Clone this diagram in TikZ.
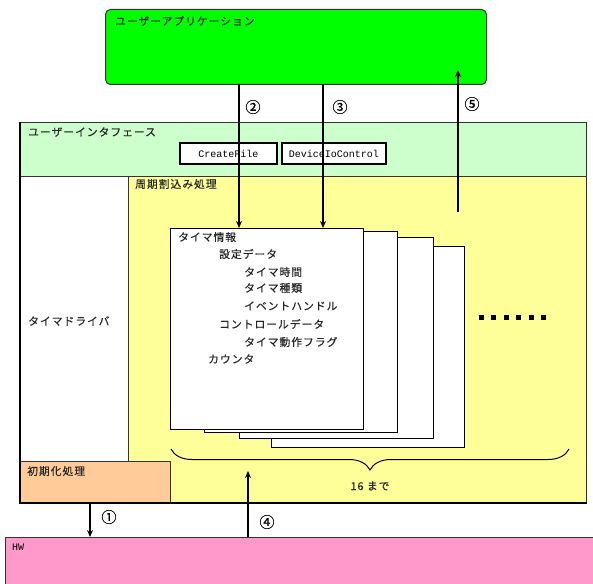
\documentclass[tikz,border=0pt]{standalone}
\usepackage{fontspec}
\usetikzlibrary{arrows.meta,decorations.pathreplacing}
\newfontfamily\jpfont{Noto Sans CJK JP}[LetterSpace=9,FakeBold=0.3]
\newfontfamily\numfont{Noto Sans CJK JP}[FakeBold=0.4]
\newfontfamily\codefont{Liberation Mono}
\definecolor{appgreen}{HTML}{00FF00}
\definecolor{uigreen}{HTML}{CCFFCC}
\definecolor{cycyellow}{HTML}{FFFF99}
\definecolor{initorange}{HTML}{FFCC99}
\definecolor{hwpink}{HTML}{FF99CC}
\tikzset{
  area/.style={draw=black!80, line width=1pt, inner sep=0pt, anchor=north west},
  card/.style={draw=black, line width=1.2pt, fill=white, inner sep=0pt, anchor=north west,
    minimum width=193pt, minimum height=201pt},
  jtext/.style={anchor=west, inner sep=0pt, text=black!85, font=\jpfont\fontsize{10.8}{12}\selectfont},
  code/.style={area, draw=black, line width=1.2pt, fill=white, anchor=center,
    font=\codefont\fontsize{10}{11}\selectfont, minimum height=21pt},
  step num/.style={inner sep=0pt, font=\numfont\fontsize{15}{15}\selectfont},
  flow/.style={line width=1.6pt, -{Stealth[length=7pt,width=6pt]}},
}
\begin{document}
\begin{tikzpicture}[x=1pt,y=-1pt]
  \useasboundingbox (0,0) rectangle (593,583);
  % layers
  \node [area, fill=appgreen, rounded corners=5pt, minimum width=381pt, minimum height=75pt] (app) at (105,9) {};
  \node [area, fill=uigreen, minimum width=566pt, minimum height=54pt] (ui) at (20,122) {};
  \node [area, fill=cycyellow, minimum width=458pt, minimum height=327pt] (cyc) at (128,176) {};
  \node [area, fill=white, minimum width=108pt, minimum height=285pt] (drv) at (20,176) {};
  \node [area, fill=initorange, minimum width=150pt, minimum height=42pt] (init) at (20,461) {};
  \node [area, fill=hwpink, minimum width=600pt, minimum height=60pt] (hw) at (5,537) {};
  \draw [black, line width=1.5pt] (20,122) -- (20,503) -- (587,503);
  % API boxes
  \node [code, minimum width=97pt] (create) at (228.5,153.5) {CreateFile};
  \node [code, minimum width=104pt] (ioctl) at (334,153.5) {DeviceIoControl};
  % timer info cards
  \node [card] (card4) at (271,246) {};
  \node [card, minimum width=194pt] (card3) at (239,237) {};
  \node [card] (card2) at (204,231) {};
  \node [card] (card1) at (170,228) {};
  % texts
  \node [jtext] (apptxt) at (115,21) {ユーザーアプリケーション};
  \node [jtext] (uitxt) at (28,132) {ユーザーインタフェース};
  \node [jtext] (cyctxt) at (135,184) {周期割込み処理};
  \node [jtext] (drvtxt) at (28,321) {タイマドライバ};
  \node [jtext] (inittxt) at (27,471) {初期化処理};
  \node [anchor=west, inner sep=0pt, font=\codefont\fontsize{10}{10}\selectfont] (hwtxt) at (12,547) {HW};
  \node [jtext] (info) at (178,237) {タイマ情報};
  \node [jtext] (conf) at (219,254) {設定データ};
  \node [jtext] (ttime) at (244,272) {タイマ時間};
  \node [jtext] (ttype) at (244,288) {タイマ種類};
  \node [jtext] (thandler) at (244,306) {イベントハンドル};
  \node [jtext] (ctrl) at (219,324) {コントロールデータ};
  \node [jtext] (tflag) at (244,342) {タイマ動作フラグ};
  \node [jtext] (counter) at (208,359) {カウンタ};
  % more cards
  \foreach \i in {0,...,5}
    \fill [black] (479+12.4*\i,314.5) rectangle ++(5,5);
  \draw [line width=1pt, decorate, decoration={brace, amplitude=21pt}] (569,449) -- (171,449);
  \node [jtext, anchor=center] (upto) at (370,486) {16 まで};
  % flows
  \coordinate (s2) at (239,84);
  \coordinate (s3) at (323,84);
  \coordinate (s5) at (458,212);
  \coordinate (t5) at (458,70);
  \coordinate (s4) at (248,537);
  \coordinate (t4) at (248,471);
  \coordinate (s1) at (90,503);
  \draw [flow] (s2) -- (s2 |- card1.north);
  \draw [flow] (s3) -- (s3 |- card1.north);
  \draw [flow] (s5) -- (t5);
  \draw [flow] (s4) -- (t4);
  \draw [flow] (s1) -- (s1 |- hw.north);
  \node [step num] (n1) at (109,517) {①};
  \node [step num] (n2) at (253,107) {②};
  \node [step num] (n3) at (340,107) {③};
  \node [step num] (n4) at (267,522) {④};
  \node [step num] (n5) at (472,104) {⑤};
\end{tikzpicture}
\end{document}
